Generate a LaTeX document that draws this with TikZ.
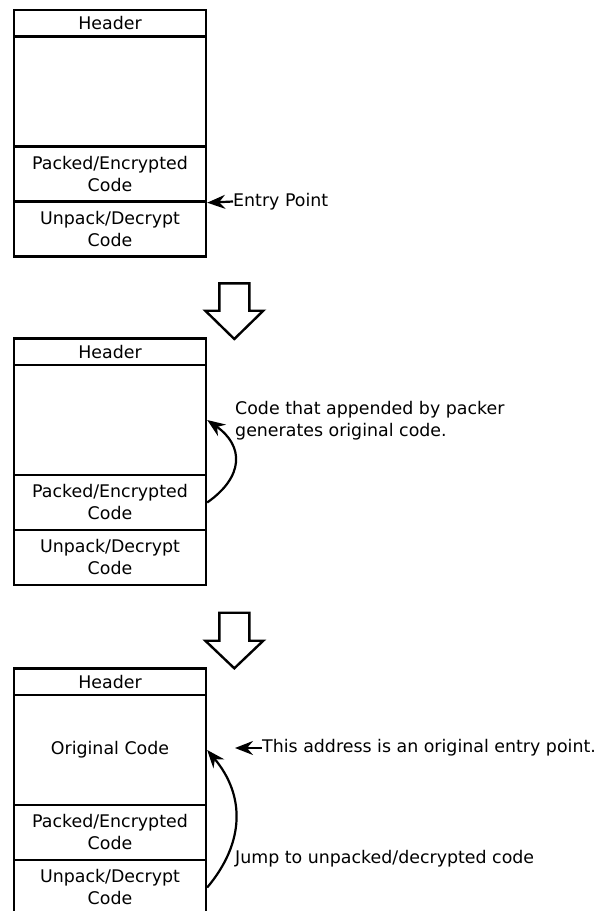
\documentclass[tikz,border=0pt]{standalone}
\usepackage{fontspec}
\setmainfont{DejaVu Sans}
\usetikzlibrary{arrows.meta}
\tikzset{
  seg/.style={draw, line width=2.4pt, minimum width=192pt, inner sep=0pt, align=center},
  hdr/.style={seg, minimum height=26.5pt},
  body/.style={seg, minimum height=110pt},
  part/.style={seg, minimum height=55pt},
  note/.style={anchor=west, inner sep=0pt, align=left},
  jump/.style={line width=2.2pt, -{Stealth[length=18pt, width=14pt, inset=6pt]}},
  bigarrow/.style={line width=2.4pt, line join=miter, fill=white}
}
\begin{document}
\begin{tikzpicture}[x=1pt,y=1pt,yscale=-1,font=\fontsize{17.4}{22}\selectfont]
\useasboundingbox (0,0) rectangle (597,911);

% first layout: packed file
\node[hdr]  (hdrA)  at (110,23.25) {Header};
\node[body] (midA)  at (110,91.5) {};
\node[part] (packA) at (110,174) {Packed/Encrypted\\Code};
\node[part] (unpA)  at (110,229) {Unpack/Decrypt\\Code};
% entry point
\node[note] (entryA) at (233,201.5) {Entry Point};
\draw[jump] (entryA.west) -- (packA.south east);

% step arrow
\draw[bigarrow] (219.3,283.3) -- (249.3,283.3) -- (249.3,310.7) -- (263.3,310.7) -- (234.3,339) -- (205.3,310.7) -- (219.3,310.7) -- cycle;

% second layout: unpacking
\node[hdr]  (hdrB)  at (110,351.75) {Header};
\node[body] (midB)  at (110,420) {};
\node[part] (packB) at (110,502.5) {Packed/Encrypted\\Code};
\node[part] (unpB)  at (110,557.5) {Unpack/Decrypt\\Code};
\node[note] (genB) at (235,421) {Code that appended by packer\\generates original code.};
\draw[jump] (packB.east) to[out=-35, in=35, looseness=1.4] (midB.east);

% step arrow
\draw[bigarrow] (219.3,612.7) -- (249.3,612.7) -- (249.3,640.7) -- (263.3,640.7) -- (234.3,668.3) -- (205.3,640.7) -- (219.3,640.7) -- cycle;

% third layout: original code restored
\node[hdr]  (hdrC)  at (110,681.75) {Header};
\node[body] (midC)  at (110,750) {Original Code};
\node[part] (packC) at (110,832.5) {Packed/Encrypted\\Code};
\node[part] (unpC)  at (110,887.5) {Unpack/Decrypt\\Code};
\node[note] (oepC) at (262,748) {This address is an original entry point.};
\coordinate (oepTip) at (235,748);
\draw[jump] (oepC.west) -- (oepTip);
\node[note] (jmpC) at (235,859) {Jump to unpacked/decrypted code};
\draw[jump] (unpC.east) to[out=-50, in=50, looseness=1.1] (midC.east);

\end{tikzpicture}
\end{document}
